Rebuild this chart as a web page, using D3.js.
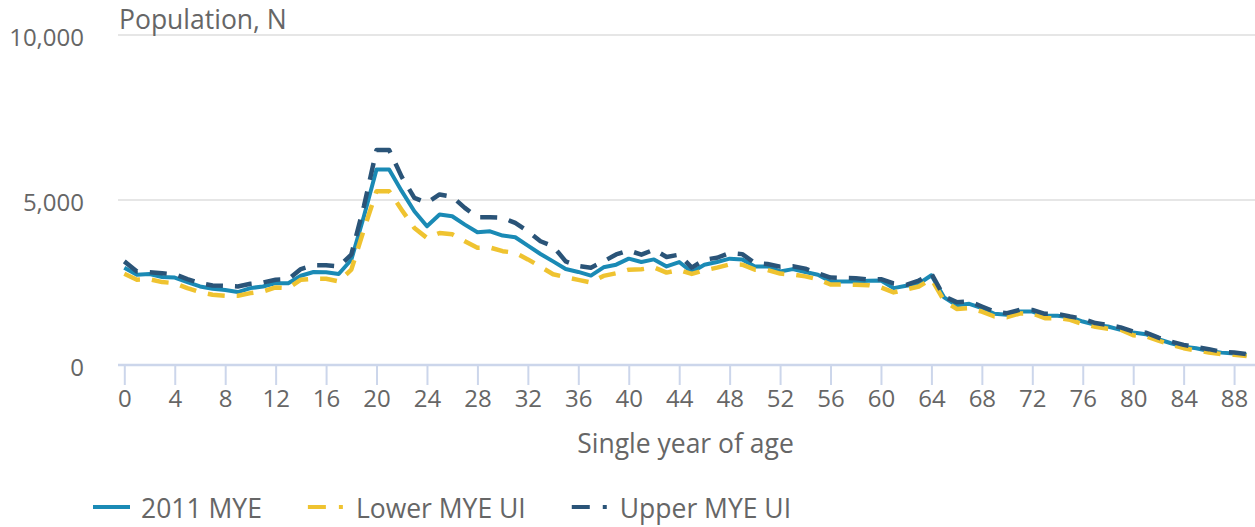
<!DOCTYPE html>
<html>
<head>
<meta charset="utf-8">
<script src="https://cdn.jsdelivr.net/npm/d3@7"></script>
<style>
  html, body { margin: 0; padding: 0; background: #fff; }
  svg { display: block; font-family: "Open Sans", sans-serif; }
</style>
</head>
<body>
<svg id="chart" width="1255" height="527"></svg>
<script>
const ages = d3.range(0, 90);
const xTickValues = d3.range(0, 89, 4);
const yTickValues = [0, 5000, 10000];

const mye = [2950,2735,2755,2665,2650,2513,2380,2310,2270,2210,
  2330,2380,2480,2480,2705,2817,2810,2756,3190,4508,
  5927,5927,5268,4660,4204,4559,4508,4255,4022,4052,
  3921,3870,3617,3364,3140,2908,2820,2710,2960,3040,
  3222,3120,3200,2988,3120,2817,3040,3120,3222,3200,
  2988,2988,2836,2905,2817,2735,2533,2533,2533,2550,
  2560,2330,2400,2462,2720,2050,1810,1854,1722,1550,
  1520,1620,1620,1489,1489,1450,1317,1216,1165,1064,
  982,932,780,659,557,507,426,375,350,310];

const lower = [2766,2584,2600,2513,2480,2330,2209,2128,2100,2097,
  2179,2230,2350,2330,2584,2615,2615,2533,2888,4103,
  5268,5268,4700,4150,3850,4000,3960,3750,3550,3560,
  3450,3400,3200,2980,2750,2660,2580,2500,2700,2780,
  2888,2900,2960,2800,2880,2760,2870,2950,3050,3040,
  2890,2880,2770,2740,2685,2600,2440,2440,2430,2420,
  2350,2200,2290,2380,2604,1950,1700,1720,1620,1470,
  1450,1560,1560,1420,1420,1370,1240,1160,1100,1070,
  900,870,740,620,510,440,380,330,310,270];

const upper = [3140,2836,2810,2780,2750,2604,2480,2410,2400,2380,
  2460,2500,2584,2600,2908,3020,3020,2990,3343,4812,
  6515,6515,5700,5066,4914,5167,5100,4762,4478,4478,
  4460,4305,4052,3750,3600,3140,3000,2950,3140,3350,
  3470,3343,3495,3273,3343,2950,3190,3250,3394,3360,
  3090,3060,2980,2990,2920,2780,2650,2640,2630,2590,
  2600,2470,2430,2560,2766,2080,1905,1925,1773,1620,
  1570,1670,1670,1550,1550,1470,1400,1270,1215,1140,
  1010,980,830,710,610,540,480,400,380,330];

const seriesNames = ["2011 MYE", "Lower MYE UI", "Upper MYE UI"];
const seriesValues = [mye, lower, upper];
const seriesColors = ["#1a8ab5", "#efc330", "#2a5478"];
const seriesDash = [null, "17 12", "17 12"];
const seriesWidth = [4, 4.5, 4.5];

const yTitle = "Population, N";
const xTitle = "Single year of age";

const textColor = "#666666";
const svg = d3.select("#chart");

const x = d3.scaleLinear().domain([-0.5, 89.5]).range([118, 1253]);
const y = d3.scaleLinear().domain([0, 10000]).range([365, 35]);

// gridlines
svg.append("g")
  .selectAll("line")
  .data(yTickValues.filter(d => d > 0))
  .join("line")
  .attr("x1", 118).attr("x2", 1255)
  .attr("y1", d => y(d)).attr("y2", d => y(d))
  .attr("stroke", "#e6e6e6").attr("stroke-width", 2);

// y axis labels
const yAxis = d3.axisLeft(y).tickValues(yTickValues).tickSize(0).tickPadding(0)
  .tickFormat(d3.format(","));
const gy = svg.append("g").attr("transform", "translate(84,0)").call(yAxis);
gy.select(".domain").remove();
gy.selectAll("text")
  .attr("fill", textColor)
  .attr("font-size", 24)
  .attr("font-family", "Open Sans")
  .attr("dy", "0.36em")
  .attr("transform", "translate(0,2)");

// x axis
const xAxis = d3.axisBottom(x).tickValues(xTickValues).tickSize(20).tickPadding(7)
  .tickFormat(d3.format("d"));
const gx = svg.append("g").attr("transform", `translate(0,${y(0)})`).call(xAxis);
gx.select(".domain").attr("d", `M118,0H1255`).attr("stroke", "#ccd6eb").attr("stroke-width", 2.5);
gx.selectAll(".tick line").attr("stroke", "#ccd6eb").attr("stroke-width", 2);
gx.selectAll("text")
  .attr("fill", textColor)
  .attr("font-size", 24)
  .attr("font-family", "Open Sans")
  .attr("dy", "0.62em");

// titles
svg.append("text")
  .attr("x", 119).attr("y", 29)
  .attr("fill", textColor)
  .attr("font-size", 26.5)
  .text(yTitle);

svg.append("text")
  .attr("x", (118 + 1253) / 2).attr("y", 453)
  .attr("text-anchor", "middle")
  .attr("fill", textColor)
  .attr("font-size", 26.5)
  .text(xTitle);

// lines
const line = d3.line()
  .x((d, i) => x(ages[i]))
  .y(d => y(d));

const gl = svg.append("g");
seriesValues.forEach((vals, k) => {
  gl.append("path")
    .datum(vals)
    .attr("d", line)
    .attr("fill", "none")
    .attr("stroke", seriesColors[k])
    .attr("stroke-width", seriesWidth[k])
    .attr("stroke-linejoin", "round")
    .attr("stroke-dasharray", seriesDash[k]);
});

// legend
const legend = svg.append("g");
let lx = 93;
const ly = 507;
seriesNames.forEach((name, k) => {
  const w = seriesDash[k] ? 35 : 37;
  legend.append("line")
    .attr("x1", lx).attr("x2", lx + w)
    .attr("y1", ly).attr("y2", ly)
    .attr("stroke", seriesColors[k])
    .attr("stroke-width", 4)
    .attr("stroke-dasharray", seriesDash[k] ? "18 13" : null);
  const t = legend.append("text")
    .attr("x", lx + 48).attr("y", 518)
    .attr("fill", textColor)
    .attr("font-size", 26.5)
    .text(name);
  lx = lx + 48 + t.node().getComputedTextLength() + 46;
});
</script>
</body>
</html>
